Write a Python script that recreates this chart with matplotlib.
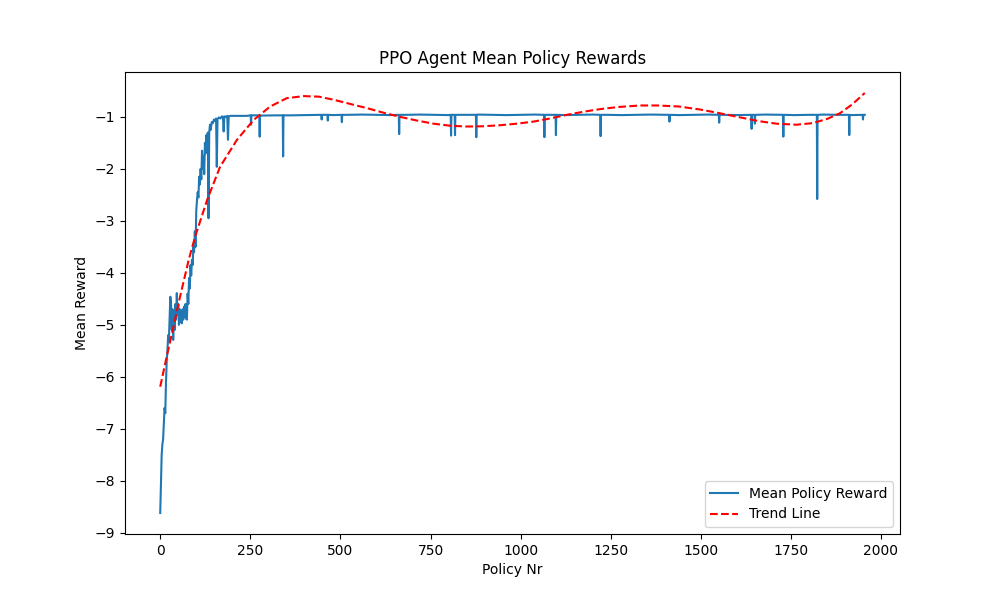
import numpy as np
import matplotlib
matplotlib.use("Agg")
import matplotlib.pyplot as plt

# --- early learning phase ---
early_policy = [0, 2, 4, 6, 8, 10, 12, 14, 16, 18, 20, 22, 24, 26, 28, 30, 32, 34, 36, 38,
                40, 42, 44, 46, 48, 50, 52, 54, 56, 58, 60, 62, 64, 66, 68, 70, 72, 74, 76, 78,
                80, 82, 84, 86, 88, 90, 92, 94, 96, 98, 100, 102, 104, 106, 108, 110, 112, 114,
                116, 118, 120, 122, 124, 126, 128, 130, 132, 134, 136, 138, 140, 143, 146, 149,
                152, 155, 157, 159, 163, 167, 171, 174, 176, 178, 182, 186, 188, 190, 195]
early_reward = [-8.62, -8.1, -7.5, -7.3, -7.2, -6.9, -6.6, -6.7, -6.1, -5.7, -5.5, -5.2, -5.3,
                -4.9, -4.46, -4.6, -5.1, -4.7, -5.29, -4.8, -5.1, -4.6, -4.9, -4.39, -4.8, -4.6,
                -5.0, -4.7, -4.95, -4.75, -4.97, -4.7, -4.9, -4.65, -4.85, -4.6, -4.88, -4.9,
                -4.4, -4.6, -4.1, -4.3, -3.85, -4.05, -3.75, -3.85, -3.5, -3.6, -3.2, -3.5,
                -2.8, -2.6, -2.45, -2.55, -2.15, -2.3, -2.0, -2.2, -1.65, -2.0, -1.75, -2.1,
                -1.5, -1.7, -1.35, -1.55, -1.3, -2.95, -1.3, -1.15, -1.25, -1.1, -1.12, -1.05,
                -1.08, -1.03, -1.96, -1.04, -1.01, -1.03, -0.99, -1.0, -1.28, -0.99, -1.0,
                -0.98, -1.44, -0.99, -0.98]

# --- plateau baseline ---
plateau_policy = list(range(200, 1941, 40)) + [1955]
plateau_reward = [-0.98, -0.98, -0.975, -0.97, -0.97, -0.965, -0.96, -0.965, -0.96, -0.955,
                  -0.96, -0.965, -0.96, -0.955, -0.96, -0.965, -0.96, -0.955, -0.96, -0.965,
                  -0.96, -0.955, -0.96, -0.965, -0.96, -0.955, -0.96, -0.965, -0.96, -0.955,
                  -0.96, -0.965, -0.96, -0.955, -0.96, -0.965, -0.96, -0.955, -0.96, -0.965,
                  -0.96, -0.955, -0.96, -0.965, -0.96]

# --- sharp drops on the plateau ---
spike_policy = [251, 252, 253, 275, 276, 277, 340, 341, 342, 447, 448, 449, 464, 465, 466,
                503, 504, 505, 662, 663, 664, 806, 807, 808, 817, 818, 819, 876, 877, 878,
                1065, 1066, 1067, 1097, 1098, 1099, 1221, 1222, 1223, 1412, 1413, 1414,
                1550, 1551, 1552, 1640, 1641, 1642, 1649, 1650, 1651, 1728, 1729, 1730,
                1822, 1823, 1824, 1911, 1912, 1913, 1949, 1950, 1951]
spike_reward = [-0.97, -1.15, -0.97, -0.97, -1.38, -0.97, -0.97, -1.76, -0.97, -0.96, -1.05, -0.96,
                -0.96, -1.07, -0.96, -0.96, -1.10, -0.96, -0.96, -1.33, -0.96, -0.96, -1.36, -0.96,
                -0.96, -1.35, -0.96, -0.96, -1.39, -0.96, -0.96, -1.39, -0.96, -0.96, -1.35, -0.96,
                -0.96, -1.37, -0.96, -0.96, -1.09, -0.96, -0.96, -1.11, -0.96, -0.96, -1.23, -0.96,
                -0.96, -1.13, -0.96, -0.96, -1.38, -0.96, -0.96, -2.58, -0.96, -0.96, -1.35, -0.96,
                -0.96, -1.05, -0.96]

# --- trend line ---
trend_policy = [0, 18, 37, 55, 79, 97, 130, 166, 213, 259, 305, 351, 398, 440, 481, 527, 573,
                620, 666, 712, 758, 805, 851, 897, 943, 990, 1036, 1082, 1128, 1175, 1221, 1270,
                1332, 1380, 1440, 1500, 1553, 1610, 1660, 1710, 1766, 1810, 1850, 1886, 1920, 1955]
trend_reward = [-6.19, -5.61, -5.03, -4.46, -3.75, -3.30, -2.60, -1.96, -1.44, -1.06, -0.80,
                -0.64, -0.60, -0.61, -0.67, -0.75, -0.83, -0.92, -1.00, -1.07, -1.13, -1.17,
                -1.185, -1.18, -1.16, -1.13, -1.09, -1.03, -0.96, -0.90, -0.85, -0.81, -0.78,
                -0.78, -0.80, -0.86, -0.93, -1.01, -1.08, -1.13, -1.15, -1.12, -1.04, -0.93,
                -0.76, -0.54]

policy = np.array(early_policy + plateau_policy + spike_policy, dtype=float)
reward = np.array(early_reward + plateau_reward + spike_reward, dtype=float)
order = np.argsort(policy, kind="stable")
policy, reward = policy[order], reward[order]

fig, ax = plt.subplots(figsize=(10, 6), dpi=100)
ax.plot(policy, reward, color="#1f77b4", linewidth=1.5, label="Mean Policy Reward")
ax.plot(trend_policy, trend_reward, "r--", linewidth=1.5, label="Trend Line")
ax.set_title("PPO Agent Mean Policy Rewards")
ax.set_xlabel("Policy Nr")
ax.set_ylabel("Mean Reward")
ax.legend(loc="lower right")
fig.savefig("out.png", dpi=100)
